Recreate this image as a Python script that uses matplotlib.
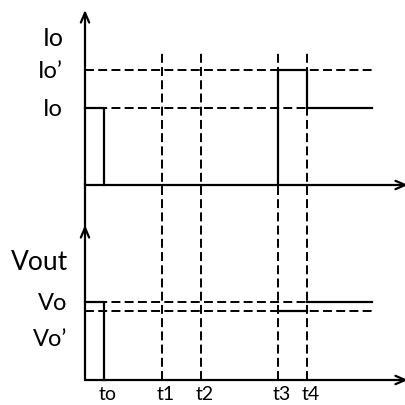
import matplotlib.pyplot as plt

plt.rcParams["font.family"] = ["Lato", "DejaVu Sans"]

# event times (horizontal units, origin at the vertical axis)
t_names = ["to", "t1", "t2", "t3", "t4"]
t_vals = [19, 77, 116, 193, 222]
t_end = 287          # where the drawn signals / reference levels stop
x_arrow = 321        # length of the time axes

# current panel levels
io_names = ["Io", "Io\u2019"]
io_vals = [77, 115]
# output voltage panel levels
vo_names = ["Vo", "Vo\u2019"]
vo_vals = [78, 69]

LW = 1.6
DASH = dict(color="black", lw=1.4, linestyle=(0, (4.6, 2.2)))

fig = plt.figure(figsize=(4.06, 4.05), dpi=100)
ax_top = fig.add_axes([85 / 406, 220 / 405, 321 / 406, 180 / 405])
ax_bot = fig.add_axes([85 / 406, 25 / 405, 321 / 406, 195 / 405])

for ax, ylim in ((ax_top, 180), (ax_bot, 195)):
    ax.set_xlim(0, x_arrow)
    ax.set_ylim(0, ylim)
    for s in ax.spines.values():
        s.set_visible(False)
    ax.tick_params(length=0)
    ax.patch.set_alpha(0)

arrow = dict(arrowstyle="->, head_length=0.7, head_width=0.3", lw=LW,
             color="black", shrinkA=0, shrinkB=0)

# ---- top panel: Io ----
to, t1, t2, t3, t4 = t_vals
io, io_p = io_vals
ax_top.annotate("", xy=(0, 175), xytext=(0, 0), arrowprops=arrow,
                annotation_clip=False)
ax_top.annotate("", xy=(x_arrow + 2, 0), xytext=(0, 0), arrowprops=arrow,
                annotation_clip=False)
for lvl in io_vals:
    ax_top.plot([0, t_end], [lvl, lvl], **DASH)
for t in t_vals[1:]:
    ax_top.plot([t, t], [-10, 135], clip_on=False, **DASH)
ax_top.plot([0, to, to], [io, io, 0], color="black", lw=LW, clip_on=False)
ax_top.plot([t3, t3, t4, t4, t_end], [0, io_p, io_p, io, io],
            color="black", lw=LW)
ax_top.set_xticks([])
ax_top.set_yticks(io_vals, io_names, fontsize=17)
ax_top.tick_params(axis="y", pad=16)
ax_top.text(-32, 147, "Io", fontsize=18, ha="center", va="center")

# ---- bottom panel: Vout ----
vo, vo_p = vo_vals
ax_bot.annotate("", xy=(0, 155), xytext=(0, 0), arrowprops=arrow,
                annotation_clip=False)
ax_bot.plot([0, 0], [150, 196], color="black", lw=LW, clip_on=False)
ax_bot.annotate("", xy=(x_arrow + 2, 0), xytext=(0, 0), arrowprops=arrow,
                annotation_clip=False)
for lvl in vo_vals:
    ax_bot.plot([0, t_end], [lvl, lvl], **DASH)
for t in t_vals[1:]:
    ax_bot.plot([t, t], [0, 185], **DASH)
ax_bot.plot([0, to, to], [vo, vo, 0], color="black", lw=LW, clip_on=False)
ax_bot.plot([t3, t4], [vo_p, vo_p], color="black", lw=LW)
ax_bot.plot([t4, t_end], [vo, vo], color="black", lw=LW)
ax_bot.set_xticks([t + 4 for t in t_vals], t_names, fontsize=14)
ax_bot.tick_params(axis="x", pad=4)
ax_bot.set_yticks([vo, vo_p - 26], vo_names, fontsize=17)
ax_bot.tick_params(axis="y", pad=13)
ax_bot.text(-45, 118, "Vout", fontsize=19, ha="center", va="center")

fig.savefig("out.png", dpi=100)
